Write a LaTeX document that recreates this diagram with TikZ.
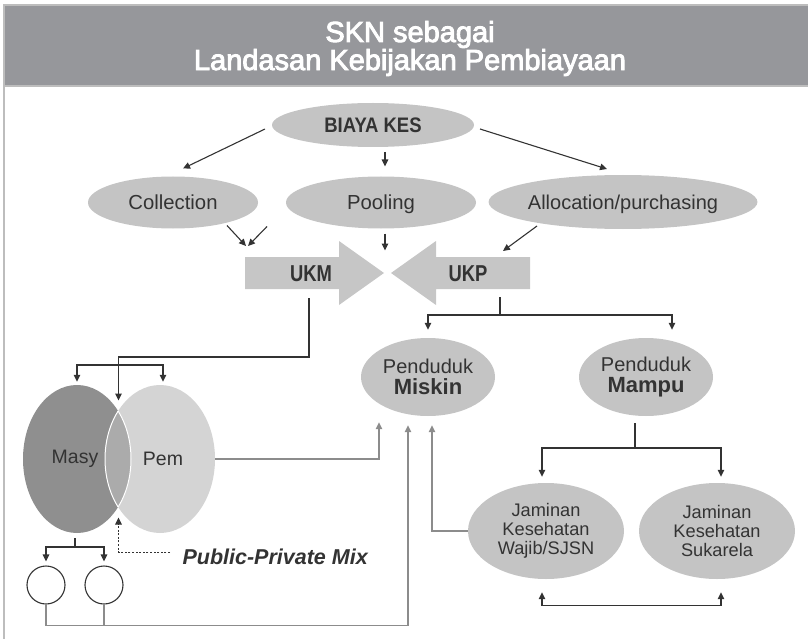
\documentclass[tikz,border=0pt]{standalone}
\usepackage{fontspec}
\setmainfont{Liberation Sans}
\newfontfamily\titlefont{Liberation Sans}[FakeBold=3]
\usetikzlibrary{shapes.geometric,arrows.meta,calc}

\definecolor{hdr}{HTML}{96979B}
\definecolor{framec}{HTML}{BDBDBD}
\definecolor{oval}{HTML}{C4C4C4}
\definecolor{blockc}{HTML}{C6C6C6}
\definecolor{ink}{HTML}{333333}
\definecolor{wire}{HTML}{8C8C8C}
\definecolor{masyc}{HTML}{8F8F8F}
\definecolor{pemc}{HTML}{D4D4D4}
\definecolor{mixc}{HTML}{ABABAB}

\newcommand\setfs[2]{\fontsize{#1}{#2}\selectfont}

\tikzset{
  oval/.style={ellipse, fill=oval, inner sep=0pt, text=ink, align=center},
  plainline/.style={draw=ink, line width=1.1pt},
  darkarrow/.style={plainline, -{Triangle[length=7pt,width=6.5pt]}},
  grayline/.style={draw=wire, line width=1.4pt},
  grayarrow/.style={grayline, -{Triangle[length=7pt,width=6.5pt]}},
  blocklabel/.style={text=ink, text height=16.5pt, text depth=0pt, font=\setfs{23}{25}\bfseries},
  ring/.style={circle, draw=ink, line width=1.1pt, minimum size=38pt, inner sep=0pt},
}

\begin{document}
\begin{tikzpicture}[x=1pt,y=-1pt]
\useasboundingbox (0,0) rectangle (808,639);

% header band and frame
\fill[hdr] (3,5) rectangle (808,86);
\draw[framec, line width=1.5pt] (4,639) |- (808,5);
\draw[framec, line width=1.5pt] (4,86) -- (808,86);
\node[text=white, align=center, font=\titlefont\setfs{29}{26}] (title) at (410,48.5)
  {SKN sebagai\\Landasan Kebijakan Pembiayaan};

% financing functions
\node[oval, text height=15pt, text depth=0pt, minimum width=202pt, minimum height=44pt,
      font=\setfs{21}{23}\bfseries] (biaya) at (373,125) {\scalebox{0.88}[1]{BIAYA KES}};
\node[oval, text height=14.5pt, text depth=0pt, minimum width=170pt, minimum height=52pt,
      font=\setfs{20.3}{22}] (collection) at (173,202.5) {Collection};
\node[oval, text height=14.5pt, text depth=0pt, minimum width=190pt, minimum height=52pt,
      font=\setfs{20.3}{22}] (pooling) at (381,202.5) {Pooling};
\node[oval, text height=14.5pt, text depth=0pt, minimum width=244pt, minimum height=54pt,
      font=\setfs{20}{22}] (alloc) at (623,202) {Allocation/purchasing};

% UKM and UKP block arrows
\fill[blockc] (245,257) -- (339,257) -- (339,241) -- (384,273) -- (339,305) -- (339,289) -- (245,289) -- cycle;
\fill[blockc] (530,257) -- (436,257) -- (436,241) -- (391,273) -- (436,305) -- (436,289) -- (530,289) -- cycle;
\node[blocklabel] (ukm) at (311,273) {\scalebox{0.8}[1]{UKM}};
\node[blocklabel] (ukp) at (468,273) {\scalebox{0.8}[1]{UKP}};

% population groups
\node[oval, minimum width=134pt, minimum height=78pt, font=\setfs{20}{21}] (miskin) at (428,377)
  {Penduduk\\{\setfs{22}{21}\bfseries Miskin}};
\node[oval, minimum width=134pt, minimum height=78pt, font=\setfs{20}{21}] (mampu) at (646,377)
  {Penduduk\\{\setfs{22}{21}\bfseries Mampu}};
\node[oval, minimum width=156pt, minimum height=96pt, font=\setfs{18.2}{19}] (wajib) at (546,531)
  {Jaminan\\Kesehatan\\Wajib/SJSN};
\node[oval, minimum width=156pt, minimum height=96pt, font=\setfs{18.2}{19}] (sukarela) at (717,531)
  {Jaminan\\Kesehatan\\Sukarela};

% community / government overlap
\node[ellipse, fill=masyc, minimum width=108pt, minimum height=148pt, inner sep=0pt,
      text=ink, font=\setfs{19.5}{21}] (masy) at (77,459) {\hspace*{-4pt}Masy};
\node[ellipse, fill=pemc, minimum width=110pt, minimum height=148pt, inner sep=0pt,
      text=ink, font=\setfs{19.5}{21}] (pem) at (160,459) {\hspace*{6pt}Pem};
\begin{scope}
  \clip (77,459) ellipse [x radius=54pt, y radius=74pt];
  \fill[mixc] (160,459) ellipse [x radius=55pt, y radius=74pt];
  \draw[white, line width=1pt] (160,459) ellipse [x radius=55pt, y radius=74pt];
\end{scope}
\begin{scope}
  \clip (160,459) ellipse [x radius=55pt, y radius=74pt];
  \draw[white, line width=1pt] (77,459) ellipse [x radius=54pt, y radius=74pt];
\end{scope}
\coordinate (mixtop) at (118.5,411.5);
\coordinate (mixbot) at (118.5,506.5);

\node[ring] (c1) at (46,585) {};
\node[ring] (c2) at (104,585) {};
\node[anchor=west, text=ink, font=\setfs{21.5}{23}\bfseries\itshape] (ppm) at (179,557) {Public-Private Mix};

% connectors from BIAYA KES
\draw[darkarrow] ($(biaya)+(-108,4)$) -- ($(collection)+(10,-34)$);
\draw[darkarrow] ($(biaya)+(12,27)$) -- ($(pooling)+(4,-36)$);
\draw[darkarrow] ($(biaya)+(107,4)$) -- ($(alloc)+(-16,-33)$);

% connectors into UKM / UKP
\draw[darkarrow] ($(collection)+(54,23)$) -- ($(ukm)+(-65,-27)$);
\draw[darkarrow] ($(collection)+(94,24)$) -- ($(ukm)+(-63,-27)$);
\draw[darkarrow] ($(pooling)+(4,31)$) -- ($(pooling)+(4,48)$);
\draw[darkarrow] ($(alloc)+(-86,24)$) -- ($(ukp)+(35,-22)$);

% UKM to the public-private mix
\coordinate (br) at (119,365);
\draw[darkarrow] ($(ukm)+(-2,25)$) -- ++(0,59) -| ($(mixtop)+(0,-11)$);
\draw[darkarrow] (br) -| ($(masy.north)+(0,-3)$);
\draw[darkarrow] (br) -| ($(pem.north)+(3,-3)$);
\draw[ink, line width=1pt, dash pattern=on 2pt off 1.6pt, -{Triangle[length=7pt,width=6.5pt]}]
  ($(ppm.west)+(-9,-5)$) -| ($(mixbot)+(0,11)$);

% community branches
\coordinate (mb) at (75,547);
\draw[plainline] ($(masy.south)+(-2,5)$) -- (mb);
\draw[darkarrow] (mb) -| ($(c1.north)+(0,-4)$);
\draw[darkarrow] (mb) -| ($(c2.north)+(0,-4)$);

% links into Penduduk Miskin
\draw[grayarrow] (c1.south) -- ++(0,21) -| ($(miskin.south)+(-20,9)$);
\draw[grayline] (c2.south) -- ++(0,21);
\draw[grayarrow] (pem.east) -| ($(miskin.south)+(-49,6)$);
\draw[grayarrow] (wajib.west) -| ($(miskin.south)+(4,9)$);

% UKP to population groups
\coordinate (uj) at (500,315);
\draw[plainline] ($(ukp)+(32,24)$) -- (uj);
\draw[darkarrow] (uj) -| ($(miskin.north)+(0,-8)$);
\draw[darkarrow] (uj) -| ($(mampu.north)+(26,-8)$);

% Penduduk Mampu to insurance schemes
\coordinate (mj) at (635,448);
\draw[plainline] ($(mampu.south)+(-11,7)$) -- (mj);
\draw[darkarrow] (mj) -| ($(wajib.north)+(-4,-6)$);
\draw[darkarrow] (mj) -| ($(sukarela.north)+(4,-6)$);
\draw[plainline, {Triangle[length=7pt,width=6.5pt]}-{Triangle[length=7pt,width=6.5pt]}]
  ($(wajib.south)+(-4,13)$) -- ++(0,13) -| ($(sukarela.south)+(4,13)$);
\end{tikzpicture}
\end{document}
